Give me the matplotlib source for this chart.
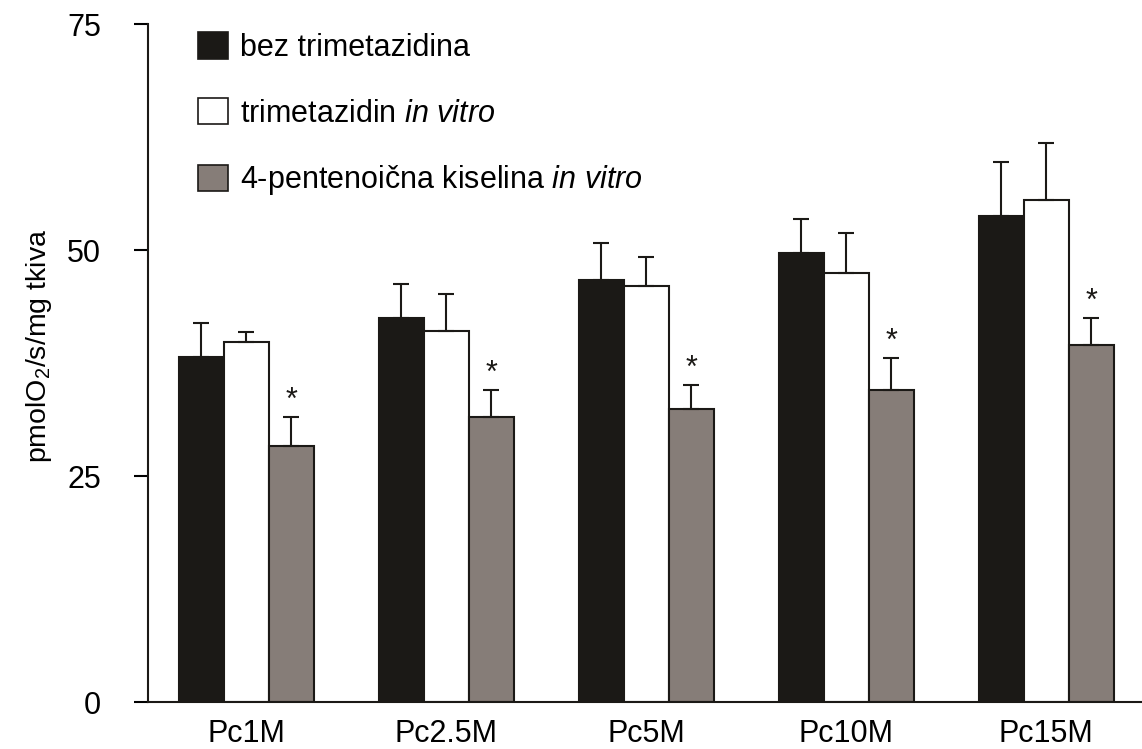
import numpy as np
import matplotlib
matplotlib.use("Agg")
import matplotlib.pyplot as plt
from matplotlib.patches import Patch

# podaci ocitani sa slike
grupe = ["Pc1M", "Pc2.5M", "Pc5M", "Pc10M", "Pc15M"]
bez_tmz = [38.2, 42.5, 46.7, 49.7, 53.8]
bez_tmz_sd = [3.7, 3.7, 4.1, 3.7, 6.0]
tmz = [39.8, 41.0, 46.0, 47.5, 55.5]
tmz_sd = [1.1, 4.1, 3.2, 4.4, 6.4]
pent = [28.3, 31.5, 32.4, 34.5, 39.5]
pent_sd = [3.2, 3.0, 2.7, 3.6, 3.0]
zvjezdica = [True, True, True, True, True]

plt.rcParams["font.family"] = ["Liberation Sans", "DejaVu Sans"]
plt.rcParams["mathtext.fontset"] = "custom"
plt.rcParams["mathtext.rm"] = "Liberation Sans"
plt.rcParams["mathtext.it"] = "Liberation Sans:italic"

fig = plt.figure(figsize=(11.42, 7.49), dpi=100)
ax = fig.add_axes([0.1296, 0.0627, 0.8704, 0.905])

x = np.arange(len(grupe))
w = 0.225
crna = "#1b1916"
siva = "#867d78"
ek = dict(ecolor="#1b1916", elinewidth=1.5, capsize=6, capthick=1.5)

for pos, vals, sd, boja in [(x - w, bez_tmz, bez_tmz_sd, crna),
                            (x, tmz, tmz_sd, "white"),
                            (x + w, pent, pent_sd, siva)]:
    ax.bar(pos, vals, w, color=boja, edgecolor="#1b1916", linewidth=1.5,
           yerr=[np.zeros(len(vals)), sd], error_kw=ek, zorder=2)

for i in range(len(grupe)):
    if zvjezdica[i]:
        ax.text(x[i] + w, pent[i] + pent_sd[i] + 0.9, "*", ha="center",
                va="baseline", fontsize=22, color="#1b1916")

ax.set_xlim(-0.49, 4.48)
ax.set_ylim(0, 75)
ax.set_yticks([0, 25, 50, 75])
ax.set_xticks(x)
ax.set_xticklabels(grupe)
ax.tick_params(axis="x", length=0, pad=12, labelsize=22)
ax.tick_params(axis="y", length=10, width=1.5, pad=24, labelsize=22)
for s in ["top", "right"]:
    ax.spines[s].set_visible(False)
for s in ["left", "bottom"]:
    ax.spines[s].set_linewidth(1.5)
    ax.spines[s].set_color("#1b1916")

ax.set_ylabel(r"pmolO$_2$/s/mg tkiva", fontsize=20.5)
ax.yaxis.set_label_coords(-0.095, 0.525)

ruke = [Patch(facecolor=crna, edgecolor="#1b1916", linewidth=1.2),
        Patch(facecolor="white", edgecolor="#1b1916", linewidth=1.2),
        Patch(facecolor=siva, edgecolor="#1b1916", linewidth=1.2)]
oznake = ["bez trimetazidina",
          r"trimetazidin $\mathit{in\ vitro}$",
          r"4-pentenoična kiselina $\mathit{in\ vitro}$"]
leg = ax.legend(ruke, oznake, loc="upper left", bbox_to_anchor=(0.050, 0.988),
                frameon=False, borderaxespad=0, borderpad=0,
                handlelength=0.98, handleheight=0.95, handletextpad=0.39,
                labelspacing=1.14, prop={"size": 22})

fig.savefig("out.png", dpi=100)
